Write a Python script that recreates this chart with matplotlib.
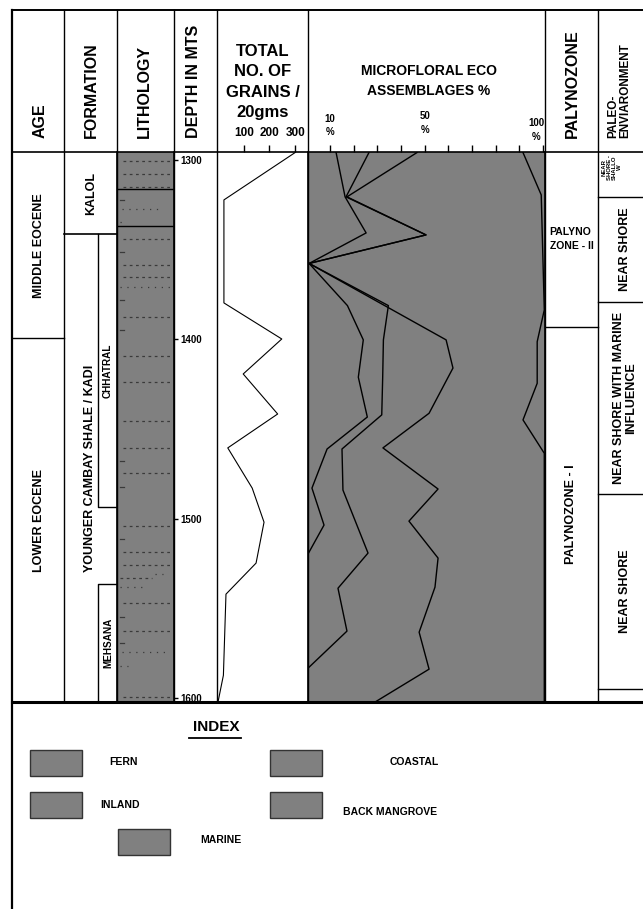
import matplotlib
matplotlib.use('Agg')
import matplotlib.pyplot as plt
from matplotlib.patches import Rectangle

plt.rcParams['font.family'] = ['Liberation Sans', 'DejaVu Sans']
plt.rcParams['font.weight'] = 'bold'

# ---------------- data ----------------
depth_ticks = [1300, 1400, 1500, 1600]

age_labels = ['MIDDLE EOCENE', 'LOWER EOCENE']
age_breaks = [1399.5]

kalol_base = 1341.4
chhatral_base = 1493.6
mehsana_top = 1536.5

# lithology texture (depths in m)
litho_beds = [1316.4, 1336.7]
litho_dashes = [1300.5, 1307.9, 1315.0, 1344.3, 1358.6, 1365.5, 1387.5, 1409.4,
                1423.7, 1445.4, 1460.8, 1474.7, 1504.1, 1518.5, 1525.9, 1547.2,
                1562.5, 1599.6]
litho_marks = [1322.4, 1351.2, 1378.1, 1394.9, 1467.9, 1482.2, 1511.2, 1554.7, 1569.2]
litho_dots = [(1327.6, 0.09, 0.81), (1334.5, 0.05, 0.14), (1370.7, 0.05, 0.96),
              (1530.9, 0.67, 0.81), (1537.9, 0.05, 0.44), (1574.2, 0.09, 0.84),
              (1582.2, 0.05, 0.19)]
litho_part = [(1532.9, 0.05, 0.61)]

# total no. of grains / 20 gms
grain_depth = [1296, 1322.4, 1379.8, 1399.9, 1419.4, 1441.7, 1460.6, 1483.0,
               1502.0, 1524.8, 1542.1, 1587.3, 1602.2]
grain_count = [300, 23, 23, 248, 98, 232, 38, 133, 179, 148, 31, 21, 0]

# microfloral eco assemblages, cumulative boundaries (%)
b1_depth = [1296, 1320.7, 1340.8, 1357.8, 1381.3, 1400.4, 1421.2, 1443.4, 1461.2,
            1483.0, 1503.6, 1519.8, 1602.2]
b1_pct = [12.5, 16.3, 25.2, 1.1, 17.3, 24.0, 21.9, 25.7, 8.7, 2.3, 7.4, 0.6, 0.6]

b2_depth = [1296, 1320.7, 1341.9, 1357.8, 1381.3, 1400.4, 1421.2, 1442.2, 1461.2,
            1484.1, 1519.2, 1538.8, 1562.7, 1583.4, 1602.2]
b2_pct = [26.4, 16.7, 50.5, 1.1, 34.6, 32.5, 32.2, 31.8, 15.0, 15.4, 26.0, 13.3,
          17.1, 0.6, 0.6]

b3_depth = [1296, 1320.7, 1341.9, 1357.8, 1400.4, 1416.1, 1441.3, 1460.6, 1483.5,
            1501.4, 1522.0, 1538.2, 1563.3, 1583.9, 1602.2]
b3_pct = [46.7, 17.1, 50.5, 1.1, 59.0, 61.9, 51.8, 32.3, 55.6, 43.3, 55.6, 54.3,
          47.6, 51.8, 29.0]

b4_depth = [1296, 1319.6, 1383.7, 1401.4, 1424.6, 1445.0, 1463.6, 1602.2]
b4_pct = [91.5, 99.2, 100.5, 97.5, 97.5, 91.5, 100.5, 100.5]

palyno_labels = ['PALYNO\nZONE - II', 'PALYNOZONE - I']
palyno_breaks = [1393.2]

env_labels = ['NEAR\nSHORE -\nSHALLO\nW', 'NEAR SHORE',
              'NEAR SHORE WITH MARINE\nINFLUENCE', 'NEAR SHORE', '']
env_breaks = [1320.7, 1379.3, 1486.3, 1595.1]

legend_labels = ['FERN', 'INLAND', 'MARINE', 'COASTAL', 'BACK MANGROVE']

# ---------------- layout (pixels) ----------------
W, H = 643, 909
TOP, HEAD, BOT = 10, 152, 702
D_TOP, D_BOT = 1295.7, 1602.2
GRAY = '#808080'

fig = plt.figure(figsize=(W / 100, H / 100), dpi=100)


def add_ax(x0, x1, y0, y1, **kw):
    return fig.add_axes([x0 / W, 1 - y1 / H, (x1 - x0) / W, (y1 - y0) / H], **kw)


# body axes: x in pixels, y in depth
body = add_ax(12, 643, HEAD, BOT, zorder=1)
body.set_xlim(12, 643)
body.set_ylim(D_BOT, D_TOP)
body.axis('off')

# age column
bounds = [D_TOP] + age_breaks + [D_BOT]
for d in age_breaks:
    body.plot([12, 64], [d, d], color='k', lw=1)
for i, lab in enumerate(age_labels):
    body.text(39, (bounds[i] + bounds[i + 1]) / 2, lab, rotation=90,
              ha='center', va='center', fontsize=9)

# formation column
body.plot([64, 117], [kalol_base, kalol_base], color='k', lw=1.2)
body.text(91, (D_TOP + kalol_base) / 2, 'KALOL', rotation=90, ha='center',
          va='center', fontsize=9)
body.text(90, (kalol_base + D_BOT) / 2, 'YOUNGER CAMBAY SHALE / KADI', rotation=90,
          ha='center', va='center', fontsize=9)
body.plot([98, 98, 117], [kalol_base, chhatral_base, chhatral_base], color='k', lw=1)
body.plot([98, 98, 117], [D_BOT, mehsana_top, mehsana_top], color='k', lw=1)
body.text(108, (kalol_base + chhatral_base) / 2, 'CHHATRAL', rotation=90,
          ha='center', va='center', fontsize=7.2)
body.text(108, (mehsana_top + D_BOT) / 2, 'MEHSANA', rotation=90,
          ha='center', va='center', fontsize=7.2)

# palynozone column
bounds = [D_TOP] + palyno_breaks + [D_BOT]
for d in palyno_breaks:
    body.plot([545, 598], [d, d], color='k', lw=1)
body.text(571.5, (bounds[0] + bounds[1]) / 2, palyno_labels[0], ha='center',
          va='center', fontsize=7.5, multialignment='left', linespacing=1.5)
body.text(571.5, (bounds[1] + bounds[2]) / 2, palyno_labels[1], rotation=90,
          ha='center', va='center', fontsize=9)

# paleo-environment column
bounds = [D_TOP] + env_breaks + [D_BOT]
for d in env_breaks:
    body.plot([598, 643], [d, d], color='k', lw=1)
for i, lab in enumerate(env_labels):
    fs = 4.3 if i == 0 else 9
    yc = (bounds[i] + bounds[i + 1]) / 2 - (4 if i == 0 else 0)
    body.text(612 if i == 0 else 625, yc, lab, rotation=90, ha='center',
              va='center', fontsize=fs, multialignment='center', linespacing=1.05)

# lithology column
lith = add_ax(117, 174, HEAD, BOT, zorder=2)
lith.set_facecolor(GRAY)
lith.set_xlim(0, 1)
lith.set_ylim(D_BOT, D_TOP)
for d in litho_beds:
    lith.axhline(d, color='k', lw=1)
for d in litho_dashes:
    lith.plot([0.1, 0.96], [d, d], color='#3a3a3a', lw=0.9, dashes=(2.2, 2.8))
for d in litho_marks:
    lith.plot([0.05, 0.12], [d, d], color='#3a3a3a', lw=0.9)
for d, a, b in litho_dots:
    lith.plot([a, b], [d, d], color='#3a3a3a', lw=0.9, dashes=(1, 4.5))
for d, a, b in litho_part:
    lith.plot([a, b], [d, d], color='#3a3a3a', lw=0.9, dashes=(2.2, 2.8))
lith.set_xticks([])
lith.yaxis.tick_right()
lith.set_yticks(depth_ticks)
lith.tick_params(axis='y', direction='out', length=3, width=1, pad=1.5, labelsize=7)
for lbl in lith.get_yticklabels():
    lbl.set_fontweight('bold')
for s in ['top', 'bottom']:
    lith.spines[s].set_visible(False)
for s in ['left', 'right']:
    lith.spines[s].set_linewidth(1.2)

# total grains column
gr = add_ax(217, 308, HEAD, BOT, zorder=2)
gr.set_xlim(-3.9, 350)
gr.set_ylim(D_BOT, D_TOP)
gr.plot(grain_count, grain_depth, color='k', lw=0.8)
for s in gr.spines.values():
    s.set_visible(False)
gr.set_yticks([])
gr.set_xticks([100, 200, 300])
gr.tick_params(axis='x', top=True, labeltop=True, bottom=False, labelbottom=False,
               direction='out', length=5, width=1, pad=4, labelsize=8.5)
for lbl in gr.get_xticklabels():
    lbl.set_fontweight('bold')

# microfloral column
mf = add_ax(308, 545, HEAD, BOT, zorder=2)
mf.set_facecolor(GRAY)
mf.set_xlim(0.63, 100.8)
mf.set_ylim(D_BOT, D_TOP)
for dd, pp in [(b1_depth, b1_pct), (b2_depth, b2_pct), (b3_depth, b3_pct),
               (b4_depth, b4_pct)]:
    mf.plot(pp, dd, color='k', lw=1.0)
for s in ['top', 'bottom']:
    mf.spines[s].set_visible(False)
for s in ['left', 'right']:
    mf.spines[s].set_linewidth(1.2)
mf.set_yticks([])
mf.set_xticks(range(10, 101, 10))
mf.tick_params(axis='x', top=True, labeltop=False, bottom=False, labelbottom=False,
               direction='out', length=5, width=1)
for val, lab, dx, dy in [(10, '10\n%', 0, 19), (50, '50\n%', 0, 21),
                         (100, '100\n%', -5, 16)]:
    mf.annotate(lab, xy=(val, 1), xycoords=('data', 'axes fraction'),
                xytext=(dx, dy), textcoords='offset points', ha='center',
                va='center', fontsize=7, linespacing=1.45)

# overlay: frame, headers and index (pixel coords)
ov = fig.add_axes([0, 0, 1, 1], zorder=10)
ov.set_xlim(0, W)
ov.set_ylim(H, 0)
ov.axis('off')

ov.plot([12, 12], [TOP, H], color='k', lw=1.6)
ov.plot([12, 643], [TOP, TOP], color='k', lw=1.4)
ov.plot([12, 643], [HEAD, HEAD], color='k', lw=1.2)
ov.plot([12, 643], [BOT, BOT], color='k', lw=2.2)
for x in [64, 117, 174, 217, 308, 545, 598]:
    ov.plot([x, x], [TOP, BOT], color='k', lw=1.0)

hdr = dict(rotation=90, ha='center', va='bottom', fontsize=11.5)
ov.text(40, 138, 'AGE', **hdr)
ov.text(91, 138, 'FORMATION', **hdr)
ov.text(144, 138, 'LITHOLOGY', **hdr)
ov.text(194, 138, 'DEPTH IN MTS', **hdr)
ov.text(572, 138, 'PALYNOZONE', **hdr)
ov.text(619, 138, 'PALEO-\nENVIARONMENT', rotation=90, ha='center', va='bottom',
        fontsize=8.5, multialignment='left', linespacing=1.0)
ov.text(263, 82, 'TOTAL\nNO. OF\nGRAINS /\n20gms', ha='center', va='center',
        fontsize=12, linespacing=1.45)
ov.text(429, 81, 'MICROFLORAL ECO\nASSEMBLAGES %', ha='center', va='center',
        fontsize=10, linespacing=1.5)

# index
ov.text(216, 727, 'INDEX', ha='center', va='center', fontsize=11)
ov.plot([189, 241], [738, 738], color='k', lw=1.3)
boxes = [(30, 750), (30, 792), (118, 829), (270, 750), (270, 792)]
label_pos = [(123, 762), (120, 805), (221, 840), (414, 762), (390, 812)]
for lab, (bx, by), (tx, ty) in zip(legend_labels, boxes, label_pos):
    ov.add_patch(Rectangle((bx, by), 52, 26, facecolor=GRAY, edgecolor='#333333',
                           lw=1.0))
    ov.text(tx, ty, lab, ha='center', va='center', fontsize=7.5)

fig.savefig('out.png', dpi=100)
